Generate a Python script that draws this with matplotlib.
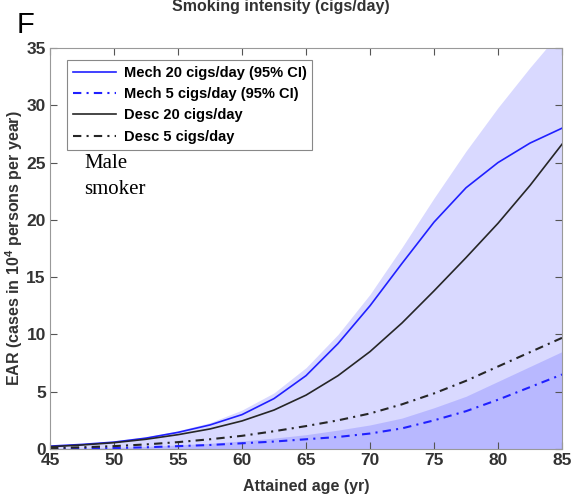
import matplotlib.pyplot as plt

plt.rcParams['font.family'] = ['Liberation Sans', 'DejaVu Sans']
plt.rcParams['mathtext.fontset'] = 'custom'
plt.rcParams['mathtext.rm'] = 'Liberation Sans'
plt.rcParams['mathtext.bf'] = 'Liberation Sans:bold'

# Excess absolute risk vs attained age, male smokers
age = [45, 47.5, 50, 52.5, 55, 57.5, 60, 62.5, 65, 67.5, 70, 72.5, 75, 77.5, 80, 82.5, 85]

mech20 = [0.25, 0.4, 0.6, 0.95, 1.45, 2.1, 3.0, 4.4, 6.4, 9.2, 12.5, 16.2, 19.8, 22.8, 25.0, 26.7, 28.0]
mech20_hi = [0.3, 0.45, 0.7, 1.05, 1.6, 2.3, 3.4, 4.9, 7.1, 10.0, 13.5, 17.6, 21.9, 26.0, 29.8, 33.3, 36.6]
mech20_lo = [0.0] * 17

mech5 = [0.02, 0.05, 0.08, 0.15, 0.25, 0.35, 0.5, 0.65, 0.85, 1.05, 1.35, 1.8, 2.5, 3.3, 4.3, 5.4, 6.5]
mech5_hi = [0.04, 0.08, 0.13, 0.22, 0.35, 0.5, 0.7, 0.95, 1.25, 1.65, 2.1, 2.7, 3.6, 4.6, 5.9, 7.2, 8.5]
mech5_lo = [0.0] * 17

desc20 = [0.2, 0.35, 0.55, 0.85, 1.25, 1.75, 2.45, 3.4, 4.7, 6.4, 8.5, 11.0, 13.8, 16.7, 19.7, 23.0, 26.6]
desc5 = [0.08, 0.15, 0.25, 0.4, 0.6, 0.85, 1.15, 1.55, 2.0, 2.5, 3.1, 3.9, 4.85, 5.95, 7.2, 8.45, 9.7]

fig = plt.figure(figsize=(5.8, 5.01), dpi=100)
ax = fig.add_axes([50 / 580, 52 / 501, 512 / 580, 401 / 501])

# confidence bands
ax.fill_between(age, mech20_lo, mech20_hi, color='blue', alpha=0.15, lw=0)
ax.fill_between(age, mech5_lo, mech5_hi, color='blue', alpha=0.15, lw=0)

dashdot = (0, (4, 2.5, 1, 2.5))
ax.plot(age, mech20, color='#2020ff', lw=1.2, label='Mech 20 cigs/day (95% CI)')
ax.plot(age, mech5, color='#2020ff', lw=1.5, ls=dashdot, label='Mech 5 cigs/day (95% CI)')
ax.plot(age, desc20, color='#262626', lw=1.2, label='Desc 20 cigs/day')
ax.plot(age, desc5, color='#262626', lw=1.5, ls=dashdot, label='Desc 5 cigs/day')

ax.set_xlim(45, 85)
ax.set_ylim(0, 35)
ax.set_xticks(range(45, 86, 5))
ax.set_yticks(range(0, 36, 5))
ax.tick_params(direction='in', top=True, right=True, length=5, width=0.8,
               color='#555555', labelsize=12.5, labelcolor='#333333', pad=3)
ax.tick_params(axis='x', pad=3)
for lab in ax.get_xticklabels() + ax.get_yticklabels():
    lab.set_fontweight('bold')
for sp in ax.spines.values():
    sp.set_color('#999999')
    sp.set_linewidth(0.8)

ax.set_xlabel('Attained age (yr)', fontsize=11.5, fontweight='bold', color='#333333', labelpad=8)
ax.set_ylabel(r'EAR (cases in 10$^{\mathbf{4}}$ persons per year)', fontsize=11.5,
              fontweight='bold', color='#333333', labelpad=1)

leg = ax.legend(loc='upper left', bbox_to_anchor=(0.033, 0.970), borderaxespad=0,
                fancybox=False, framealpha=1, edgecolor='#888888',
                prop={'weight': 'bold', 'size': 10.5}, handlelength=3.0,
                handletextpad=0.5, labelspacing=0.5, borderpad=0.4)
leg.get_frame().set_linewidth(0.8)

ax.text(47.7, 24.5, 'Male', family='Liberation Serif', fontsize=15, va='baseline')
ax.text(47.7, 22.3, 'smoker', family='Liberation Serif', fontsize=15, va='baseline')

fig.text(0.485, 1 - 11 / 501, 'Smoking intensity (cigs/day)', fontsize=11.5,
         fontweight='bold', color='#333333', ha='center', va='baseline')
fig.text(17 / 580, 1 - 33 / 501, 'F', fontsize=21, va='baseline')

fig.savefig('out.png', dpi=100)
